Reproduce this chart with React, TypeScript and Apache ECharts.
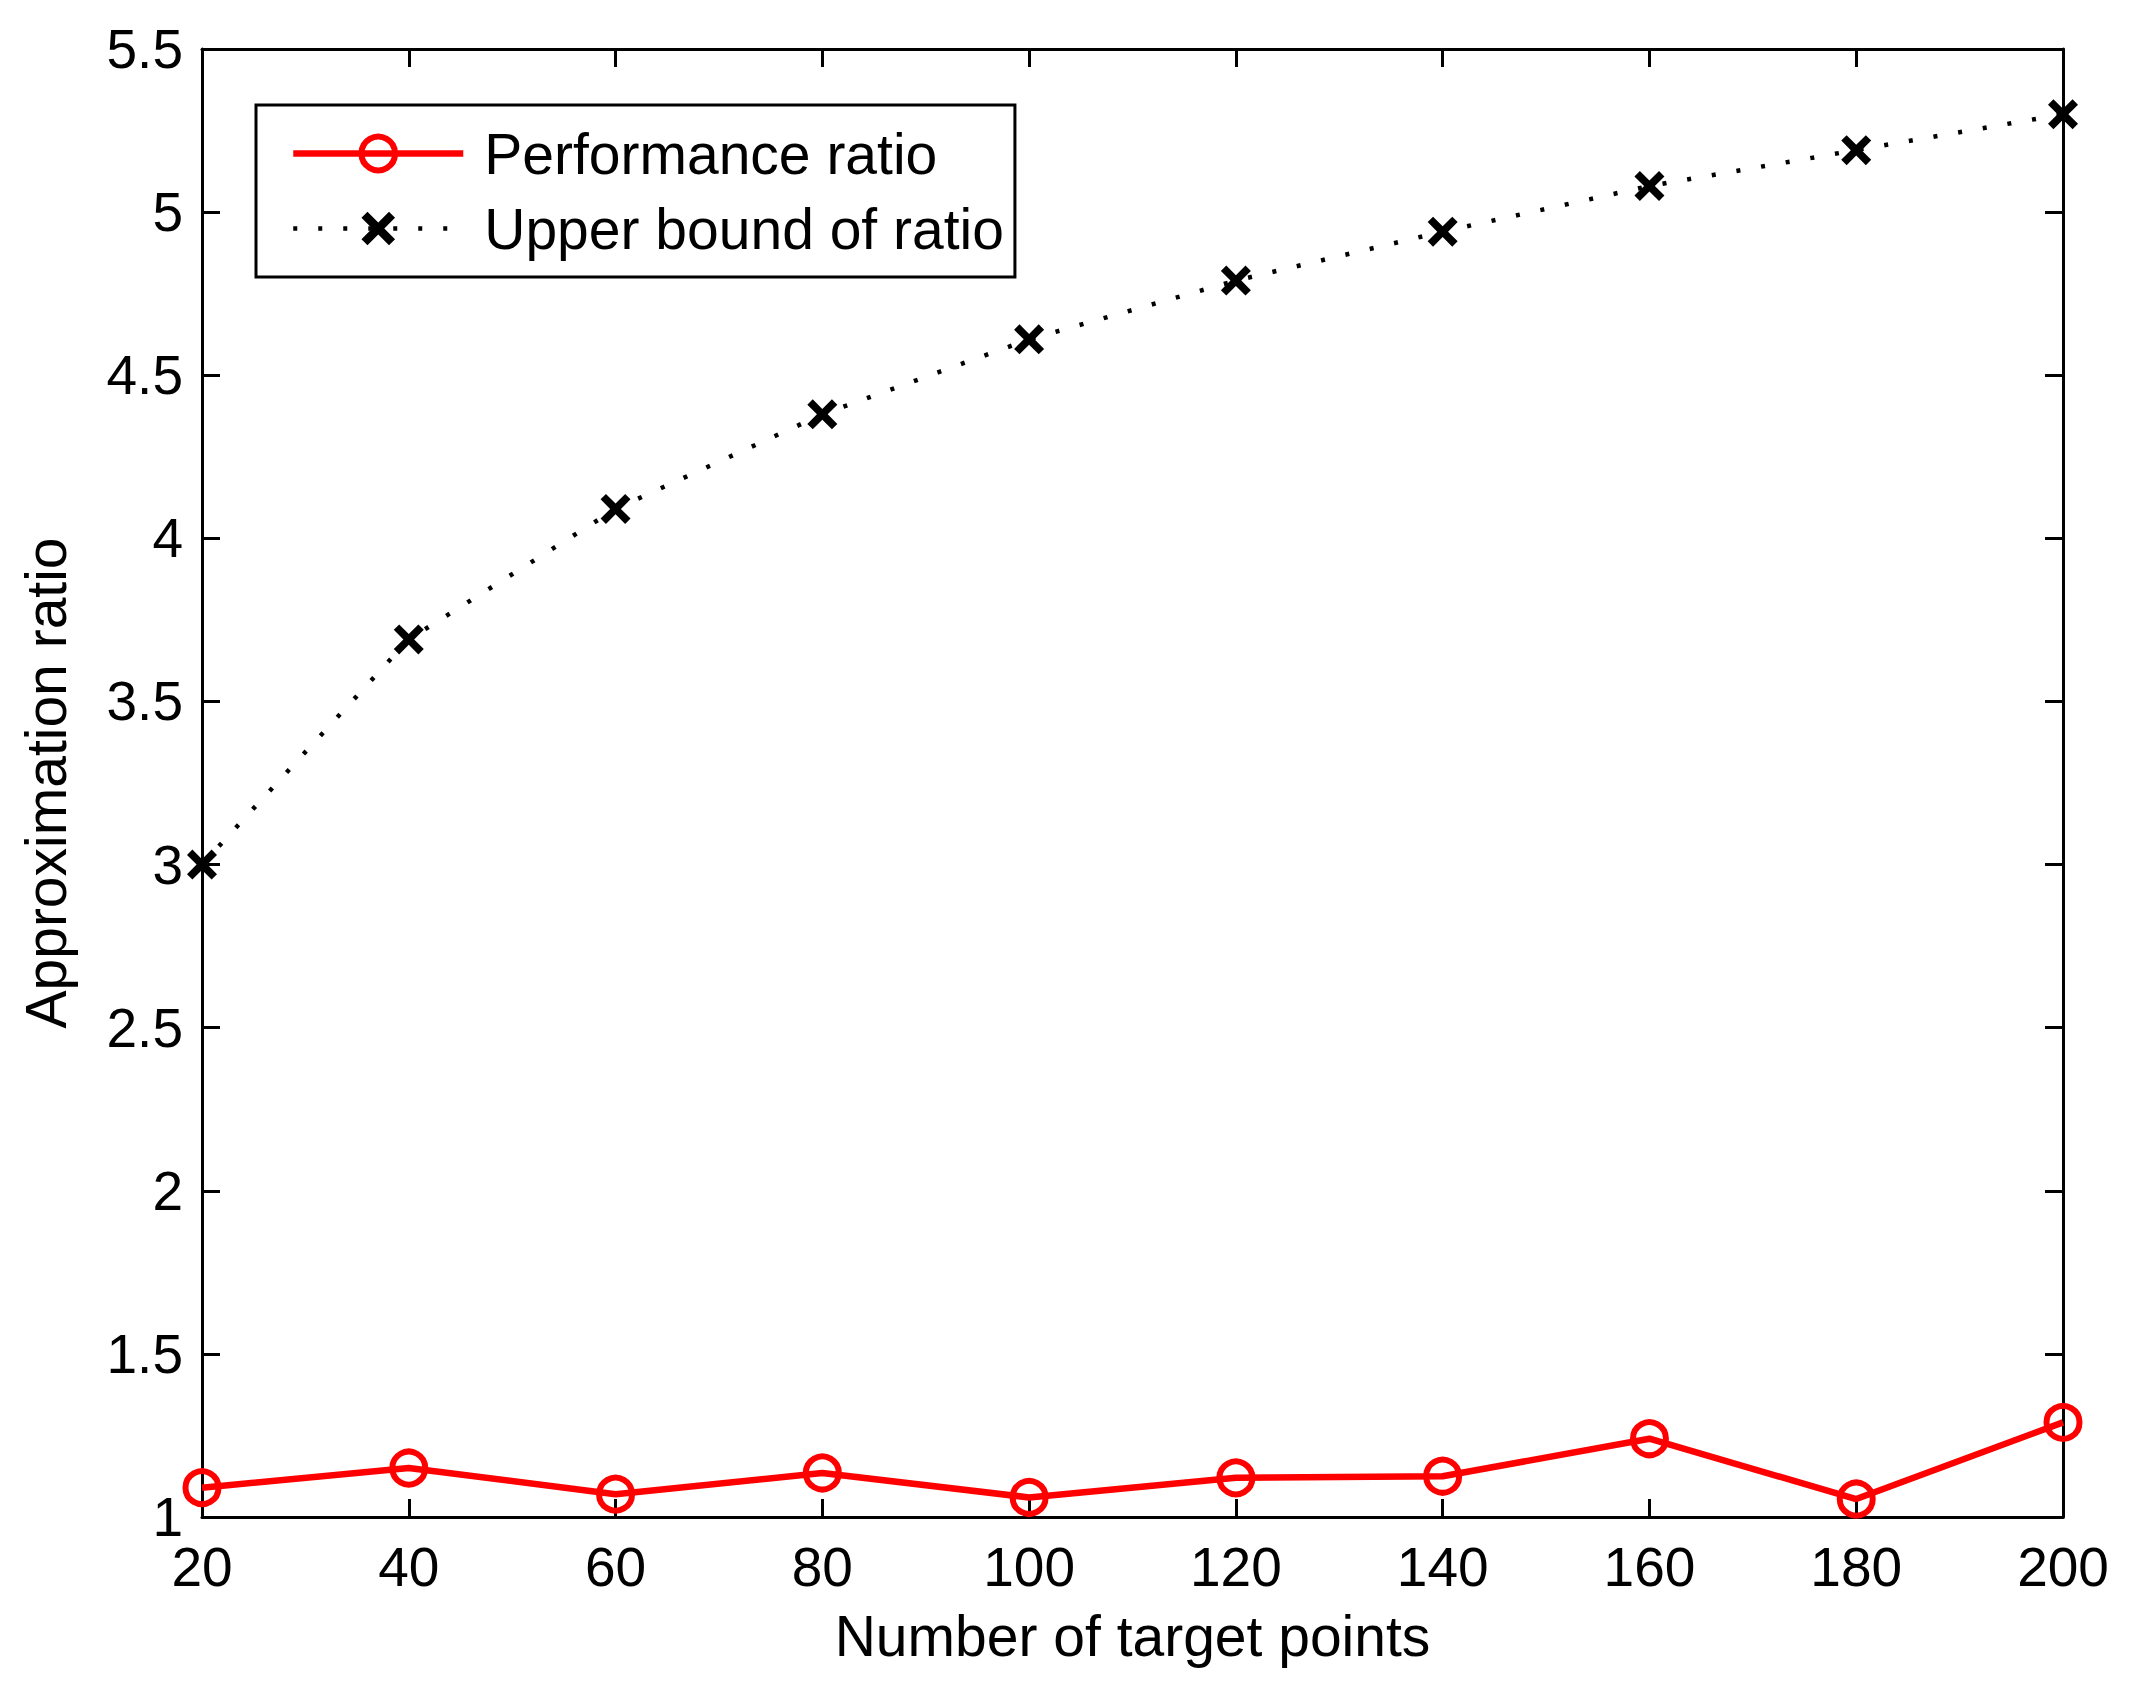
import React, { useEffect, useRef } from "react";
import * as echarts from "echarts";

const xValues = [20, 40, 60, 80, 100, 120, 140, 160, 180, 200];
const performanceRatio = [1.09, 1.15, 1.07, 1.135, 1.06, 1.12, 1.125, 1.24, 1.055, 1.29];
const upperBound = [3.0, 3.69, 4.09, 4.38, 4.61, 4.79, 4.94, 5.08, 5.19, 5.3];
const seriesNames = ["Performance ratio", "Upper bound of ratio"];
const xTitle = "Number of target points";
const yTitle = "Approximation ratio";

const FONT = "'Liberation Sans', Arial, Helvetica, sans-serif";
const X_MARK =
  "path://M0,18 L18,0 L50,32 L82,0 L100,18 L68,50 L100,82 L82,100 L50,68 L18,100 L0,82 L32,50 Z";

export default function App() {
  const ref = useRef<HTMLDivElement>(null);
  useEffect(() => {
    document.body.style.margin = "0";
    const chart = echarts.init(ref.current!, null, { renderer: "svg" });
    const axisLine = { show: true, onZero: false, lineStyle: { color: "#000", width: 3 } };
    const axisTick = { show: true, inside: true, length: 18, lineStyle: { color: "#000", width: 3 } };
    const label = { fontSize: 55, color: "#000", fontFamily: FONT };
    const nameStyle = { fontSize: 57, color: "#000", fontFamily: FONT };
    chart.setOption({
      animation: false,
      backgroundColor: "#fff",
      grid: { left: 202, top: 49, right: 72, bottom: 171, containLabel: false },
      legend: {
        show: true,
        orient: "vertical",
        left: 256,
        top: 105,
        data: [
          {
            name: seriesNames[0],
            itemStyle: { color: "rgba(255,255,255,0)", borderColor: "#ff0000", borderWidth: 6 },
            lineStyle: { color: "#ff0000", width: 6.5 },
          },
          {
            name: seriesNames[1],
            itemStyle: { color: "#000" },
            lineStyle: { color: "#000", width: 4.5, type: [4, 21], cap: "butt" },
          },
        ],
        backgroundColor: "#fff",
        borderColor: "#000",
        borderWidth: 3,
        borderRadius: 0,
        padding: [20, 11, 20, 34],
        itemWidth: 170,
        itemHeight: 42,
        itemGap: 18,
        textStyle: { ...nameStyle, padding: [0, 0, 0, 16] },
      },
      xAxis: [
        {
          type: "value",
          position: "bottom",
          min: 20,
          max: 200,
          interval: 20,
          axisLine,
          axisTick,
          axisLabel: { ...label, margin: 22 },
          splitLine: { show: false },
          name: xTitle,
          nameLocation: "middle",
          nameGap: 90,
          nameTextStyle: nameStyle,
        },
        {
          type: "value",
          position: "top",
          min: 20,
          max: 200,
          interval: 20,
          axisLine,
          axisTick,
          axisLabel: { show: false },
          splitLine: { show: false },
        },
      ],
      yAxis: [
        {
          type: "value",
          position: "left",
          min: 1,
          max: 5.5,
          interval: 0.5,
          axisLine,
          axisTick,
          axisLabel: { ...label, margin: 19 },
          splitLine: { show: false },
          name: yTitle,
          nameLocation: "middle",
          nameGap: 128,
          nameTextStyle: nameStyle,
        },
        {
          type: "value",
          position: "right",
          min: 1,
          max: 5.5,
          interval: 0.5,
          axisLine,
          axisTick,
          axisLabel: { show: false },
          splitLine: { show: false },
        },
      ],
      series: [
        {
          type: "line",
          name: seriesNames[0],
          data: xValues.map((x, i) => [x, performanceRatio[i]]),
          symbol: "circle",
          symbolSize: 33,
          clip: false,
          itemStyle: { color: "rgba(255,255,255,0)", borderColor: "#ff0000", borderWidth: 6 },
          lineStyle: { color: "#ff0000", width: 6.5 },
          z: 3,
        },
        {
          type: "line",
          name: seriesNames[1],
          data: xValues.map((x, i) => [x, upperBound[i]]),
          symbol: X_MARK,
          symbolSize: 30,
          clip: false,
          itemStyle: { color: "#000" },
          lineStyle: { color: "#000", width: 4.5, type: [4, 21], cap: "butt" },
          z: 2,
        },
      ],
    });
    return () => chart.dispose();
  }, []);
  return <div ref={ref} style={{ width: 2135, height: 1688 }} />;
}
